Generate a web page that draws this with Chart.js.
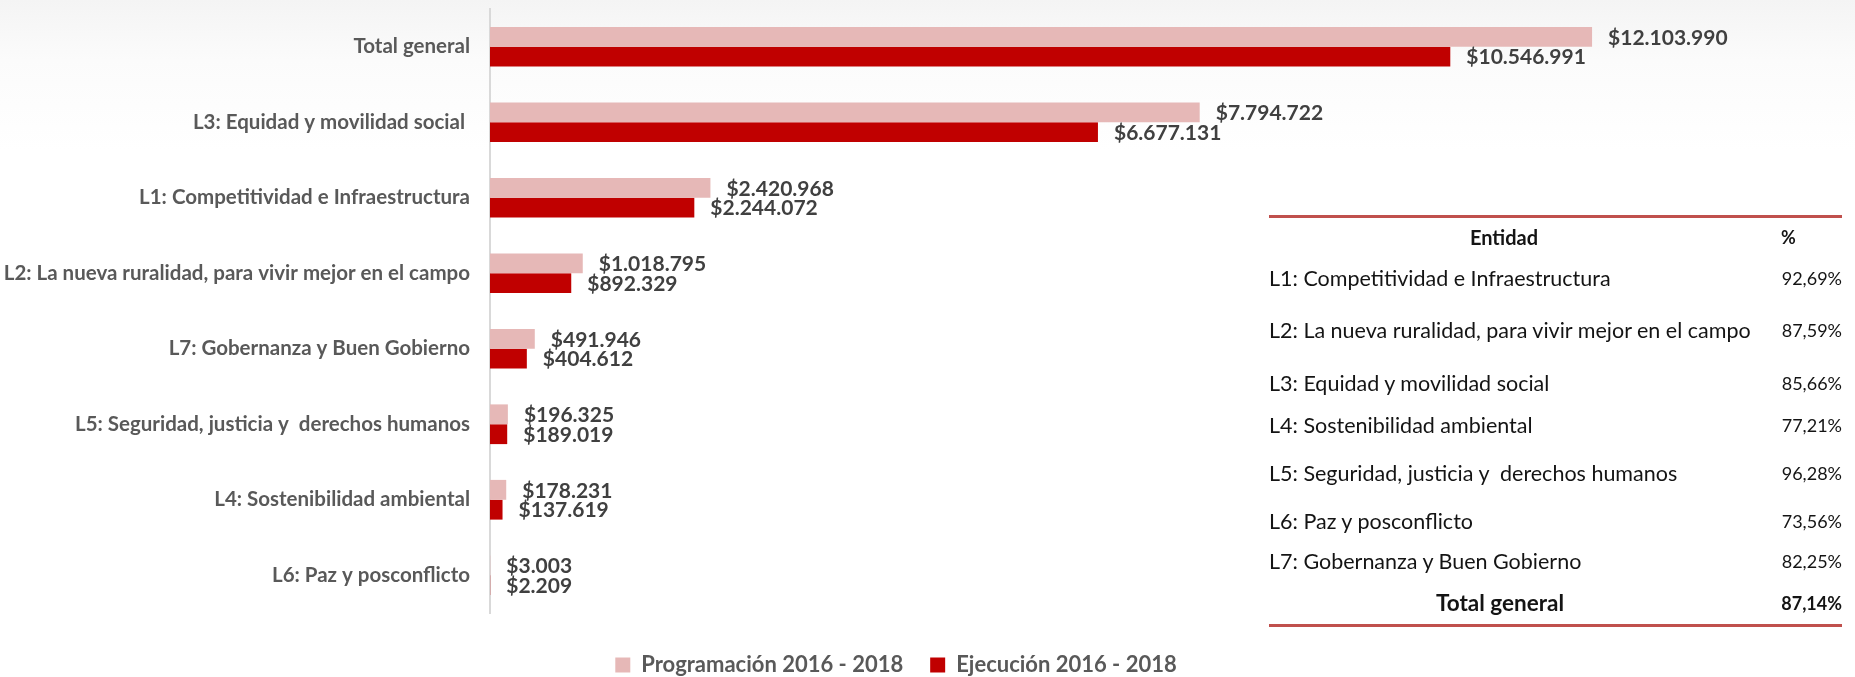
<!DOCTYPE html>
<html lang="es">
<head>
<meta charset="utf-8">
<title>Programación vs Ejecución 2016 - 2018</title>
<script src="https://cdn.jsdelivr.net/npm/chart.js@4.4.1/dist/chart.umd.min.js"></script>
<style>
  html, body { margin: 0; padding: 0; background: #ffffff; }
  body { width: 1855px; height: 677px; position: relative; overflow: hidden;
         background: linear-gradient(to bottom, #f4f4f4 0px, #fbfbfb 60px, #ffffff 150px); }
  #chartBox { position: absolute; left: 0; top: 0; width: 1792px; height: 677px; }
  #tabla { position: absolute; left: 1269px; top: 0; width: 573px; height: 677px;
           font-family: Lato, sans-serif; color: #141414; }
  #tabla .linea { position: absolute; left: 0; width: 573px; height: 3px; background: #c0504d; }
  #tabla .fila { position: absolute; left: 0; width: 573px; height: 30px; line-height: 30px; white-space: pre; }
  #tabla .ent { position: absolute; left: 0; font-size: 21.5px; }
  #tabla .pct { position: absolute; right: 0; text-align: right; font-size: 18px; }
  #tabla .bold { font-weight: bold; }
  #tabla .bold .ent { left: 0; width: 462px; text-align: center; font-size: 22.5px; }
  #tabla .bold .pct { right: 0; width: 107px; text-align: right; }
  #tabla .head .ent { font-size: 20px; left: 4px; }
  #tabla .head .pct { text-align: center; }
</style>
</head>
<body>
<div id="chartBox"><canvas id="ejecChart"></canvas></div>
<div id="tabla"></div>

<script>
// ── Datos ──────────────────────────────────────────────
const categorias = [
  "Total general",
  "L3: Equidad y movilidad social ",
  "L1: Competitividad e Infraestructura",
  "L2: La nueva ruralidad, para vivir mejor en el campo",
  "L7: Gobernanza y Buen Gobierno",
  "L5: Seguridad, justicia y  derechos humanos",
  "L4: Sostenibilidad ambiental",
  "L6: Paz y posconflicto"
];
const programacion = [12103990, 7794722, 2420968, 1018795, 491946, 196325, 178231, 3003];
const ejecucion    = [10546991, 6677131, 2244072, 892329, 404612, 189019, 137619, 2209];

const tablaEntidad = [
  "L1: Competitividad e Infraestructura",
  "L2: La nueva ruralidad, para vivir mejor en el campo",
  "L3: Equidad y movilidad social",
  "L4: Sostenibilidad ambiental",
  "L5: Seguridad, justicia y  derechos humanos",
  "L6: Paz y posconflicto",
  "L7: Gobernanza y Buen Gobierno"
];
const tablaPct = ["92,69%", "87,59%", "85,66%", "77,21%", "96,28%", "73,56%", "82,25%"];
const totalPct = "87,14%";

// ── Estilo ─────────────────────────────────────────────
const FUENTE = "Lato, sans-serif";
const filaY = [237, 278, 330, 383, 425, 473, 521, 561, 603];   // centro de cada fila de la tabla

function formatoPesos(v) {
  return "$" + String(v).replace(/\B(?=(\d{3})+(?!\d))/g, ".");
}

// ── Tabla ──────────────────────────────────────────────
function armarTabla() {
  const t = document.getElementById("tabla");
  const filas = [["Entidad", "%", "bold head"]]
    .concat(tablaEntidad.map((e, i) => [e, tablaPct[i], ""]))
    .concat([["Total general", totalPct, "bold"]]);

  let html = '<div class="linea" style="top:215px"></div>';
  filas.forEach((f, i) => {
    html += `<div class="fila ${f[2]}" style="top:${filaY[i] - 15}px">` +
            `<span class="ent">${f[0]}</span><span class="pct">${f[1]}</span></div>`;
  });
  html += '<div class="linea" style="top:624px"></div>';
  t.innerHTML = html;
}

// ── Etiquetas de valores ───────────────────────────────
const etiquetasBarras = {
  id: "etiquetasBarras",
  afterDatasetsDraw(chart) {
    const ctx = chart.ctx;
    ctx.save();
    ctx.font = "bold 21px " + FUENTE;
    ctx.fillStyle = "#404040";
    ctx.textAlign = "left";
    ctx.textBaseline = "middle";
    chart.data.datasets.forEach((ds, i) => {
      chart.getDatasetMeta(i).data.forEach((bar, j) => {
        ctx.fillText(formatoPesos(ds.data[j]), bar.x + 16, bar.y + 1);
      });
    });
    ctx.restore();
  }
};

// leyenda pegada al borde inferior
const alturaLeyenda = {
  id: "alturaLeyenda",
  beforeInit(chart) {
    const lg = chart.legend;
    if (!lg || lg._ajustada) return;
    const fit = lg.fit.bind(lg);
    lg.fit = function () { fit(); this.height = 50; };
    lg._ajustada = true;
  }
};

document.addEventListener("DOMContentLoaded", () => {
  armarTabla();

  const ctx = document.getElementById("ejecChart").getContext("2d");
  new Chart(ctx, {
    type: "bar",
    data: {
      labels: categorias,
      datasets: [
        {
          label: "Programación 2016 - 2018",
          data: programacion,
          backgroundColor: "#e6b8b7",
          categoryPercentage: 0.526,
          barPercentage: 1
        },
        {
          label: "Ejecución 2016 - 2018",
          data: ejecucion,
          backgroundColor: "#c00000",
          categoryPercentage: 0.526,
          barPercentage: 1
        }
      ]
    },
    options: {
      indexAxis: "y",
      responsive: true,
      maintainAspectRatio: false,
      animation: false,
      layout: { padding: { top: 9, left: 0, right: 0, bottom: 0 } },
      plugins: {
        tooltip: { enabled: false },
        legend: {
          position: "bottom",
          labels: {
            boxWidth: 15,
            boxHeight: 15,
            padding: 27,
            color: "#595959",
            font: { family: FUENTE, size: 22, weight: "bold" }
          }
        }
      },
      scales: {
        x: {
          min: 0,
          max: 14300000,
          ticks: { display: false },
          grid: { display: false, drawTicks: false },
          border: { display: false },
          afterFit(s) { s.height = 14; }
        },
        y: {
          ticks: {
            autoSkip: false,
            padding: 20,
            color: "#595959",
            font: { family: FUENTE, size: 20.5, weight: "bold" }
          },
          grid: { display: false, drawTicks: false },
          border: { display: true, color: "#d9d9d9", width: 2 },
          afterFit(s) {
            s.width = 490;
            s.paddingTop = 0;
            s.paddingBottom = 0;
          }
        }
      }
    },
    plugins: [etiquetasBarras, alturaLeyenda]
  });
});
</script>
</body>
</html>
